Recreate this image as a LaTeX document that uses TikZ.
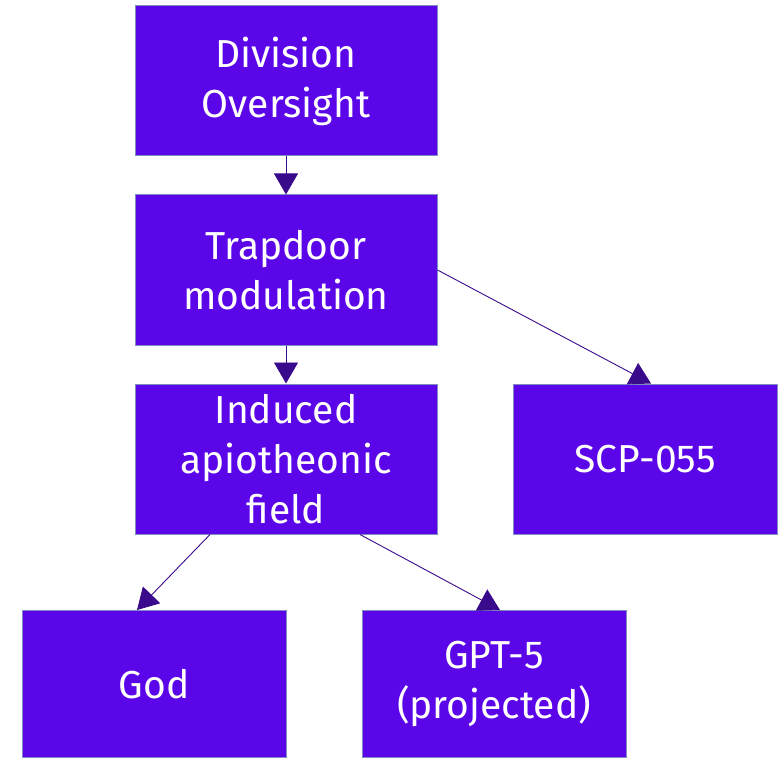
\documentclass[tikz,border=0pt]{standalone}
\usepackage{fontspec}
\setmainfont{Fira Sans}
\usetikzlibrary{arrows.meta}
\definecolor{boxfill}{HTML}{5B06E8}
\definecolor{boxline}{HTML}{7E8CC4}
\definecolor{arrowc}{HTML}{3A0A8C}
\begin{document}
\begin{tikzpicture}[x=1pt,y=-1pt,
  box/.style={draw=boxline, line width=1pt, fill=boxfill, text=white,
    minimum width=#1, minimum height=150pt, align=center, inner sep=0pt,
    font=\fontsize{39}{50}\selectfont},
  box/.default=302pt,
  conn/.style={draw=arrowc, line width=0.9pt, -{Triangle[length=21pt,width=24pt]}}]
\useasboundingbox (0,0) rectangle (778,759);
\node[box] (div) at (286,81) {Division\\Oversight};
\node[box] (trap) at (286,270) {Trapdoor\\modulation};
\node[box] (ind) at (286,459) {Induced\\apiotheonic\\field};
\node[box=264pt] (scp) at (645,459) {SCP-055};
\node[box=264pt,minimum height=147pt] (god) at (154,684) {God};
\node[box=264pt,minimum height=147pt] (gpt) at (494,684) {GPT-5\\(projected)};
\draw[conn] (div.south) -- (trap.north);
\draw[conn] (trap.south) -- (ind.north);
\draw[conn] (trap.east) -- ([xshift=6pt]scp.north);
\draw[conn] ([xshift=-76pt]ind.south) -- ([xshift=-17pt]god.north);
\draw[conn] ([xshift=74pt]ind.south) -- ([xshift=6pt]gpt.north);
\end{tikzpicture}
\end{document}
